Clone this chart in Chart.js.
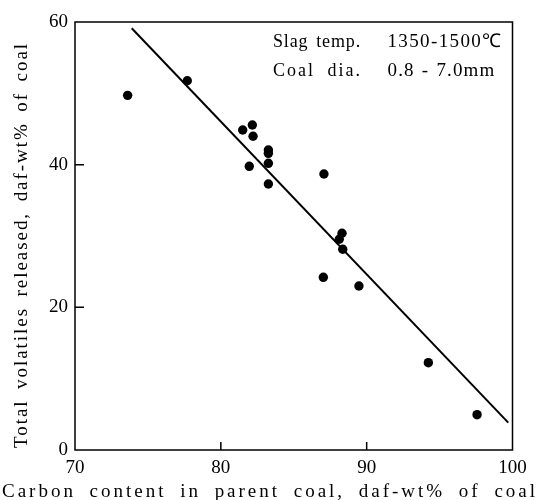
<!DOCTYPE html>
<html><head><meta charset="utf-8">
<script src="https://cdn.jsdelivr.net/npm/chart.js@4.4.1/dist/chart.umd.min.js"></script>
<style>html,body{margin:0;padding:0;background:#fff;} #wrap{width:542px;height:500px;position:relative;}</style>
</head><body><div id="wrap"><canvas id="c" width="542" height="500"></canvas></div>
<script>
// ---- data ----
const carbon    = [73.61, 77.70, 81.50, 82.16, 82.21, 81.95, 83.26, 83.26, 83.26, 83.26, 87.07, 88.31, 88.12, 88.36, 87.03, 89.47, 94.23, 97.57];
const volatiles = [49.72, 51.77, 44.86, 45.56, 43.98, 39.77, 42.06, 41.59, 40.19, 37.29, 38.69, 30.38, 29.54, 28.14, 24.21, 22.99, 12.24, 4.95];
const fitCarbon    = [73.89, 99.71];
const fitVolatiles = [59.12, 3.83];
const xTickValues = [70, 80, 90, 100];
const yTickValues = [0, 20, 40, 60];
const xTitle = 'Carbon content in parent coal, daf-wt% of coal';
const yTitle = 'Total volatiles released, daf-wt% of coal';
const noteLabels = ['Slag temp.', 'Coal dia.'];
const noteValues = ['1350-1500\u2103', '0.8 - 7.0mm'];

const FONT = "'Liberation Serif', 'Times New Roman', serif";

// draw text stretched to a given width: letters get spacing L, word gaps get an extra ratio*L
function fitText(ctx, text, x, y, width, ratio) {
  ctx.letterSpacing = '0px';
  ctx.wordSpacing = '0px';
  const w0 = ctx.measureText(text).width;
  const n = [...text].length;
  const g = (text.match(/ /g) || []).length;
  const L = (width - w0) / (n + ratio * g);
  ctx.letterSpacing = L + 'px';
  ctx.wordSpacing = (ratio * L) + 'px';
  ctx.fillText(text, x, y);
  ctx.letterSpacing = '0px';
  ctx.wordSpacing = '0px';
}

const decor = {
  id: 'decor',
  afterDraw(chart) {
    const {ctx, chartArea: a, scales} = chart;
    ctx.save();
    ctx.strokeStyle = '#000';
    ctx.lineWidth = 1.5;
    ctx.strokeRect(a.left, a.top, a.right - a.left, a.bottom - a.top);
    // inward tick marks
    ctx.beginPath();
    yTickValues.slice(1, -1).forEach(v => {
      const py = scales.y.getPixelForValue(v);
      ctx.moveTo(a.left, py); ctx.lineTo(a.left + 9, py);
    });
    xTickValues.slice(1, -1).forEach(v => {
      const px = scales.x.getPixelForValue(v);
      ctx.moveTo(px, a.bottom); ctx.lineTo(px, a.bottom - 8);
    });
    ctx.stroke();
    // axis titles
    ctx.fillStyle = '#000';
    ctx.font = '19px ' + FONT;
    ctx.textAlign = 'left';
    ctx.textBaseline = 'alphabetic';
    fitText(ctx, xTitle, 2, 497, 536, 2);
    ctx.save();
    ctx.translate(27, 448);
    ctx.rotate(-Math.PI / 2);
    fitText(ctx, yTitle, 0, 0, 406, 2);
    ctx.restore();
    // note
    const baseY = [47, 76];
    const labW = [88, 89];
    const valW = [115, 108];
    ctx.font = '18px ' + FONT;
    noteLabels.forEach((t, i) => fitText(ctx, t, 273, baseY[i], labW[i], 3));
    ctx.font = '19px ' + FONT;
    noteValues.forEach((t, i) => fitText(ctx, t, 387.5, baseY[i], valW[i], 1));
    ctx.restore();
  }
};

new Chart(document.getElementById('c'), {
  type: 'scatter',
  data: {
    datasets: [
      {
        data: carbon.map((c, i) => ({x: c, y: volatiles[i]})),
        backgroundColor: '#000', borderWidth: 0, pointRadius: 4.7, pointHoverRadius: 4.7
      },
      {
        data: fitCarbon.map((c, i) => ({x: c, y: fitVolatiles[i]})),
        showLine: true, borderColor: '#000', borderWidth: 2, pointRadius: 0, fill: false
      }
    ]
  },
  options: {
    responsive: false, animation: false, devicePixelRatio: 1,
    layout: {padding: {left: 0, top: 22, right: 29.5, bottom: 0}},
    plugins: {legend: {display: false}, tooltip: {enabled: false}},
    scales: {
      x: {
        type: 'linear', min: 70, max: 100,
        afterBuildTicks: s => { s.ticks = xTickValues.map(v => ({value: v})); },
        afterFit: s => { s.height = 50; },
        grid: {display: false, drawTicks: false}, border: {display: false},
        ticks: {color: '#000', font: {family: FONT, size: 19}, padding: 7, maxRotation: 0}
      },
      y: {
        type: 'linear', min: 0, max: 60,
        afterBuildTicks: s => { s.ticks = yTickValues.map(v => ({value: v})); },
        afterFit: s => { s.width = 75; },
        grid: {display: false, drawTicks: false}, border: {display: false},
        ticks: {color: '#000', font: {family: FONT, size: 19}, padding: 7}
      }
    }
  },
  plugins: [decor]
});
</script></body></html>
